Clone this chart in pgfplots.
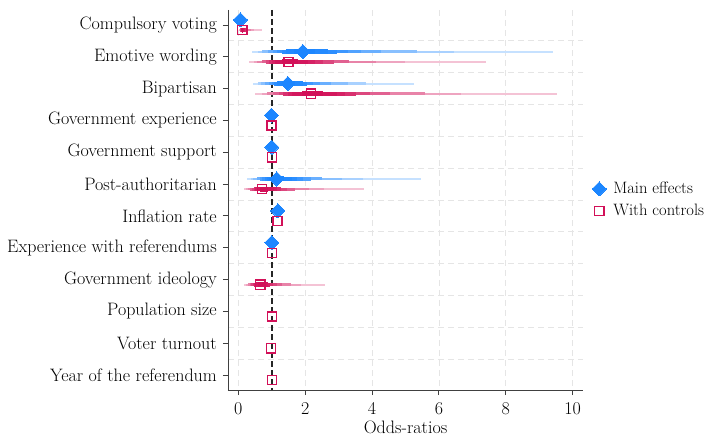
\documentclass[border=0pt]{standalone}
\usepackage{fontspec}
\usepackage{pgfplots}
\pgfplotsset{compat=1.18}
\usepackage{pgfplotstable}
\definecolor{cB}{RGB}{28,134,255}
\definecolor{cR}{RGB}{210,16,88}

% point estimates (odds ratios)
\pgfplotstableread{
y or
0.84 0.06
1.84 1.93
2.84 1.48
3.84 0.99
4.84 1.00
5.84 1.15
6.84 1.18
7.84 1.00
}\ptB
\pgfplotstableread{
y or
1.16 0.12
2.16 1.50
3.16 2.17
4.16 0.99
5.16 1.00
6.16 0.71
7.16 1.17
8.16 1.00
9.16 0.66
10.16 1.00
11.16 0.98
12.16 1.00
}\ptR
% nested confidence limits: 1=99%, 2=95%, 3=90%, 4=80%, 5=70%, 6=60%, 7=50%, 8=40%, 9=20%
\pgfplotstableread{
y or l1 h1 l2 h2 l3 h3 l4 h4 l5 h5 l6 h6 l7 h7 l8 h8 l9 h9
1.84 1.93 0.406 9.40 0.591 6.46 0.717 5.33 0.894 4.27 1.039 3.68 1.169 3.27 1.296 2.95 1.419 2.69 1.675 2.28
2.84 1.48 0.433 5.24 0.582 3.82 0.677 3.29 0.806 2.76 0.908 2.45 0.996 2.23 1.079 2.06 1.160 1.92 1.322 1.68
5.84 1.15 0.257 5.45 0.369 3.73 0.444 3.10 0.551 2.50 0.637 2.16 0.714 1.93 0.788 1.75 0.862 1.60 1.011 1.36
}\ciB
\pgfplotstableread{
y or l1 h1 l2 h2 l3 h3 l4 h4 l5 h5 l6 h6 l7 h7 l8 h8 l9 h9
1.16 0.12 0.021 0.706 0.032 0.464 0.040 0.375 0.051 0.293 0.061 0.248 0.069 0.217 0.078 0.194 0.086 0.175 0.103 0.145
2.16 1.50 0.320 7.40 0.465 4.98 0.563 4.12 0.700 3.31 0.813 2.85 0.915 2.53 1.012 2.29 1.108 2.09 1.306 1.77
3.16 2.17 0.503 9.52 0.714 6.67 0.854 5.57 1.050 4.53 1.208 3.94 1.350 3.53 1.486 3.20 1.618 2.94 1.889 2.52
6.16 0.71 0.155 3.77 0.226 2.57 0.275 2.12 0.345 1.69 0.402 1.45 0.453 1.29 0.503 1.16 0.552 1.06 0.652 0.893
9.16 0.66 0.176 2.60 0.242 1.86 0.285 1.58 0.344 1.31 0.391 1.15 0.433 1.04 0.472 0.951 0.511 0.880 0.587 0.765
}\ciR

\newcommand{\ciplot}[5]{%
\addplot[forget plot, draw=none, mark=none,
  error bars/.cd, x dir=both, x explicit, error mark=none,
  error bar style={line width=#4, color=#2!#3!white}]
  table[x=or, y=y, x error plus expr=\thisrow{h#5}-\thisrow{or},
        x error minus expr=\thisrow{or}-\thisrow{l#5}] {#1};}

\begin{document}
\fontsize{18}{21}\selectfont
\begin{tikzpicture}
\begin{axis}[name=ax, scale only axis, width=355pt, height=380pt,
  xmin=-0.31, xmax=10.31, ymin=0.53, ymax=12.47, y dir=reverse,
  axis x line*=bottom, axis y line*=left,
  axis line style={-, black!75, line width=0.9pt},
  xtick={0,2,...,10}, ytick={1,...,12},
  yticklabels={Compulsory voting, Emotive wording, Bipartisan, Government experience,
    Government support, Post-authoritarian, Inflation rate, Experience with referendums,
    Government ideology, Population size, Voter turnout, Year of the referendum},
  /pgf/number format/assume math mode=true,
  tick align=outside, major tick length=5pt,
  tick style={black!75, line width=0.9pt},
  xticklabel style={yshift=-1pt},
  xmajorgrids, minor ytick={1.5,2.5,...,11.5}, yminorgrids, minor tick length=0pt,
  major grid style={black!10, line width=0.8pt, dash pattern=on 6pt off 4pt},
  minor grid style={black!10, line width=0.8pt, dash pattern=on 6pt off 4pt},
  xlabel={Odds-ratios}, xlabel style={yshift=6pt},
  legend style={at={(1,0.5)}, anchor=west, xshift=6pt, draw=none, fill=none,
    row sep=4pt, font=\fontsize{16.5}{19}\selectfont},
  legend cell align=left,
]
\addplot[forget plot, black!85, line width=1.6pt, dash pattern=on 6pt off 3pt]
  coordinates {(1,0.53) (1,12.47)};
% smoothed confidence intervals
\ciplot{\ciB}{cB}{25}{2.0pt}{1}
\ciplot{\ciB}{cB}{38}{2.3pt}{2}
\ciplot{\ciB}{cB}{52}{2.6pt}{3}
\ciplot{\ciB}{cB}{66}{3.0pt}{4}
\ciplot{\ciB}{cB}{77}{3.3pt}{5}
\ciplot{\ciB}{cB}{86}{3.6pt}{6}
\ciplot{\ciB}{cB}{93}{4.0pt}{7}
\ciplot{\ciB}{cB}{97}{4.4pt}{8}
\ciplot{\ciB}{cB}{100}{5.0pt}{9}
\ciplot{\ciR}{cR}{25}{2.0pt}{1}
\ciplot{\ciR}{cR}{38}{2.3pt}{2}
\ciplot{\ciR}{cR}{52}{2.6pt}{3}
\ciplot{\ciR}{cR}{66}{3.0pt}{4}
\ciplot{\ciR}{cR}{77}{3.3pt}{5}
\ciplot{\ciR}{cR}{86}{3.6pt}{6}
\ciplot{\ciR}{cR}{93}{4.0pt}{7}
\ciplot{\ciR}{cR}{97}{4.4pt}{8}
\ciplot{\ciR}{cR}{100}{5.0pt}{9}
% point estimates
\addplot[only marks, mark=square*, mark size=5pt,
  mark options={rotate=45, fill=cB, draw=cB, line width=0pt}]
  table[x=or, y=y] {\ptB};
\addplot[only marks, mark=square, mark size=4.6pt,
  mark options={draw=cR, line width=1.3pt}]
  table[x=or, y=y] {\ptR};
\legend{\hspace{5pt}Main effects, \hspace{5pt}With controls}
\end{axis}
\pgfresetboundingbox
\path[use as bounding box] ([shift={(-228pt,-46pt)}]ax.south west) rectangle ([shift={(128pt,10pt)}]ax.north east);
\end{tikzpicture}
\end{document}
